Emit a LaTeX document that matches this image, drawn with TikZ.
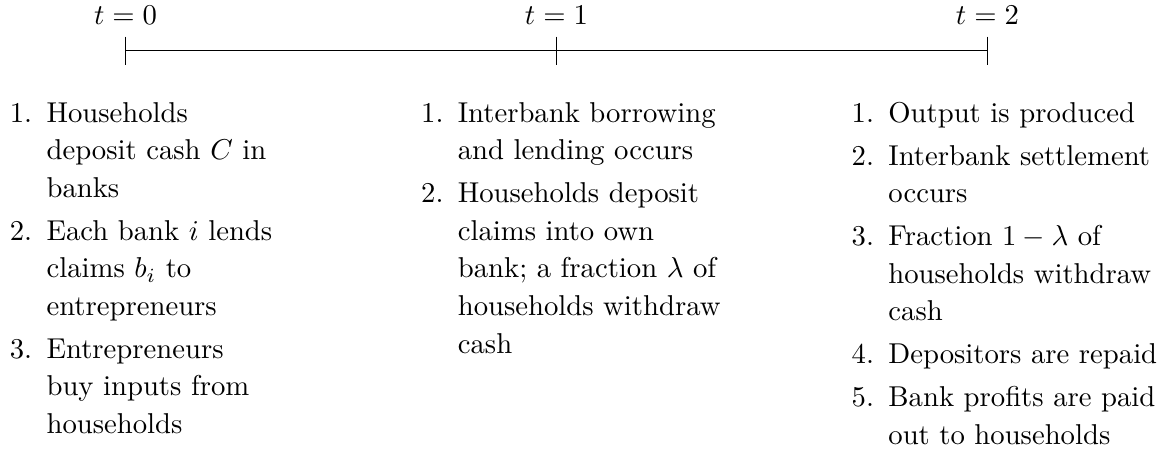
\documentclass[tikz,border=0pt]{standalone}
\usetikzlibrary{positioning}
\renewcommand{\arraystretch}{1.09}

\begin{document}
\begin{tikzpicture}[
    steps/.style={anchor=base west, inner sep=0pt},
    stamp/.style={above=0.8pt}
  ]
    \useasboundingbox (-1.537,-5.0) rectangle (12.706,0.621);
    \coordinate (t0) at (0,0);
    \coordinate (t1) at (5.278,0);
    \coordinate (t2) at (10.556,0);
    \draw (t0) -- (t2);
    \draw ([yshift=1.74mm]t0) -- ([yshift=-1.74mm]t0)
      node[pos=0, stamp] (lab0) {$t=0$};
    \draw ([yshift=1.74mm]t1) -- ([yshift=-1.74mm]t1)
      node[pos=0, stamp] (lab1) {$t=1$};
    \draw ([yshift=1.74mm]t2) -- ([yshift=-1.74mm]t2)
      node[pos=0, stamp] (lab2) {$t=2$};
    \node[steps] (deposits) at (-1.423,-0.877) {%
      \begin{tabular}[t]{@{}r@{\hspace{5pt}}l@{}}
        1. & Households\\
           & deposit cash $C$ in\\
           & banks\\[1.9pt]
        2. & Each bank $i$ lends\\
           & claims $b_i$ to\\
           & entrepreneurs\\[1.9pt]
        3. & Entrepreneurs\\
           & buy inputs from\\
           & households
      \end{tabular}};
    \node[steps] (interbank) at (3.614,-0.877) {%
      \begin{tabular}[t]{@{}r@{\hspace{5pt}}l@{}}
        1. & Interbank borrowing\\
           & and lending occurs\\[1.9pt]
        2. & Households deposit\\
           & claims into own\\
           & bank; a fraction $\lambda$ of\\
           & households withdraw\\
           & cash
      \end{tabular}};
    \node[steps] (settlement) at (8.887,-0.877) {%
      \begin{tabular}[t]{@{}r@{\hspace{5pt}}l@{}}
        1. & Output is produced\\[1.9pt]
        2. & Interbank settlement\\
           & occurs\\[1.9pt]
        3. & Fraction $1-\lambda$ of\\
           & households withdraw\\
           & cash\\[1.9pt]
        4. & Depositors are repaid\\[1.9pt]
        5. & Bank profits are paid\\
           & out to households
      \end{tabular}};
  \end{tikzpicture}
\end{document}
